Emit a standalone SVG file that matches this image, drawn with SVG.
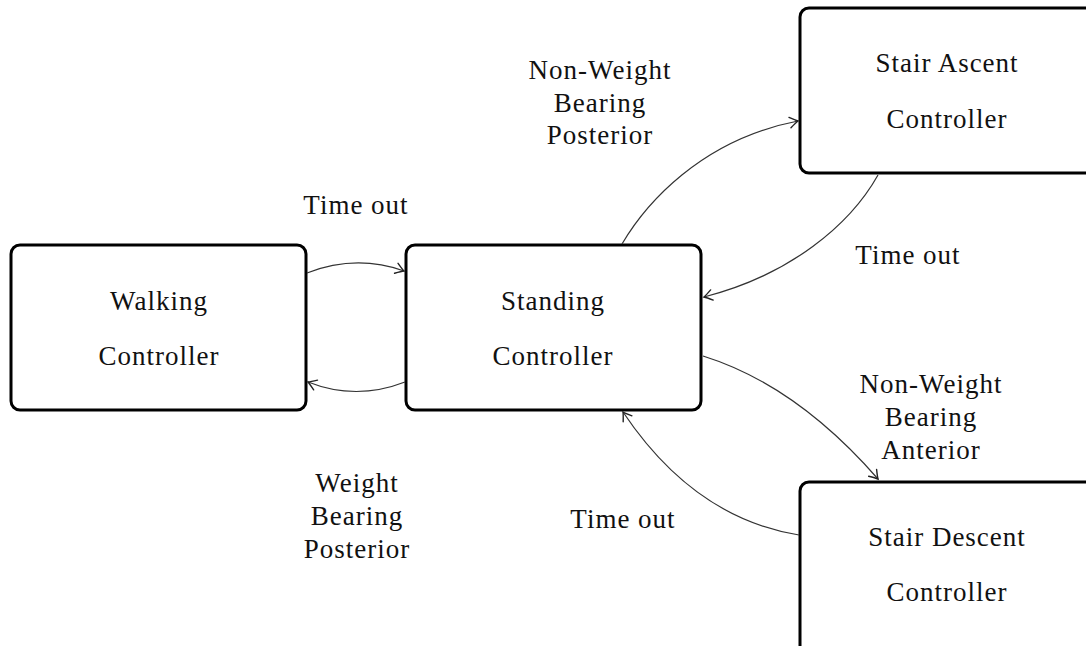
<svg xmlns="http://www.w3.org/2000/svg" width="1086" height="646" viewBox="0 0 1086 646">
  <style>
    .box { fill: #fff; stroke: #000; stroke-width: 3; }
    .lbl { font-family: 'Liberation Serif', 'DejaVu Serif', serif; font-size: 27px; letter-spacing: 1px; fill: #111; text-anchor: middle; }
    .edge { fill: none; stroke: #333; stroke-width: 1.2; marker-end: url(#tip); }
  </style>
  <defs>
    <marker id="tip" markerUnits="userSpaceOnUse" markerWidth="14" markerHeight="14" viewBox="-8 -6 10 12" refX="0" refY="0" orient="auto">
      <path d="M-7,-4.5 Q-2,-1 0,0 Q-2,1 -7,4.5" fill="none" stroke="#222" stroke-width="1.2" stroke-linecap="round"/>
    </marker>
  </defs>
  <rect width="1086" height="646" fill="#fff"/>

  <g id="walking">
    <rect class="box" x="11" y="245" width="295" height="165" rx="9"/>
    <text class="lbl" x="159" y="310">Walking</text>
    <text class="lbl" x="159" y="365">Controller</text>
  </g>

  <g id="standing">
    <rect class="box" x="406" y="245" width="295" height="165" rx="9"/>
    <text class="lbl" x="553" y="310">Standing</text>
    <text class="lbl" x="553" y="365">Controller</text>
  </g>

  <g id="stair-ascent">
    <rect class="box" x="800" y="8" width="310" height="165" rx="9"/>
    <text class="lbl" x="947" y="72">Stair Ascent</text>
    <text class="lbl" x="947" y="128">Controller</text>
  </g>

  <g id="stair-descent">
    <rect class="box" x="800" y="482" width="310" height="180" rx="9"/>
    <text class="lbl" x="947" y="546">Stair Descent</text>
    <text class="lbl" x="947" y="601">Controller</text>
  </g>

  <g id="connectors">
    <path class="edge" d="M307,273 Q356,254 404,271"/>
    <path class="edge" d="M405,382 Q356,401 308,382"/>
    <path class="edge" d="M622,244 C645,205 700,140 798,121"/>
    <path class="edge" d="M878,175 C850,225 790,275 704,297"/>
    <path class="edge" d="M703,356 Q796,385 878,479"/>
    <path class="edge" d="M799,535 Q694,518 623,412"/>
  </g>

  <g id="edge-labels">
    <text class="lbl" x="356" y="214">Time out</text>
    <text class="lbl" x="600" y="79">Non-Weight</text>
    <text class="lbl" x="600" y="112">Bearing</text>
    <text class="lbl" x="600" y="144">Posterior</text>
    <text class="lbl" x="908" y="264">Time out</text>
    <text class="lbl" x="931" y="393">Non-Weight</text>
    <text class="lbl" x="931" y="426">Bearing</text>
    <text class="lbl" x="931" y="459">Anterior</text>
    <text class="lbl" x="623" y="528">Time out</text>
    <text class="lbl" x="357" y="492">Weight</text>
    <text class="lbl" x="357" y="525">Bearing</text>
    <text class="lbl" x="357" y="558">Posterior</text>
  </g>
</svg>
